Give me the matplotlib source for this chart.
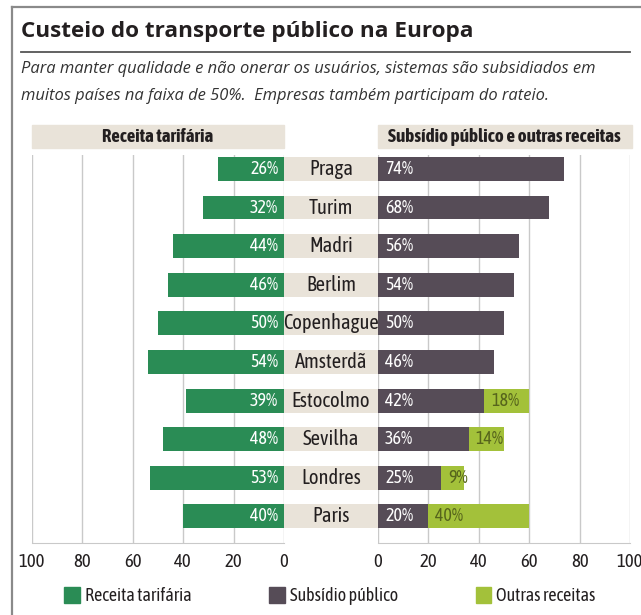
import numpy as np
import matplotlib
matplotlib.use("Agg")
import matplotlib.pyplot as plt
from matplotlib.patches import Rectangle, Patch
from matplotlib.lines import Line2D

# --------------------------
# Data
# --------------------------
cities = ["Praga", "Turim", "Madri", "Berlim", "Copenhague",
          "Amsterdã", "Estocolmo", "Sevilha", "Londres", "Paris"]
receita = [26, 32, 44, 46, 50, 54, 39, 48, 53, 40]
subsidio = [74, 68, 56, 54, 50, 46, 42, 36, 25, 20]
outras = [0, 0, 0, 0, 0, 0, 18, 14, 9, 40]
ticks = [0, 20, 40, 60, 80, 100]

# --------------------------
# Style
# --------------------------
COND = ["Asap Condensed", "Barlow Semi Condensed", "DejaVu Sans"]
HEAD = ["Open Sans", "DejaVu Sans"]

GREEN = "#2a8c55"
DARK = "#564c57"
LIGHT = "#a3c13a"
BEIGE = "#e9e3d9"
GRID = "#c9c9c9"
TXT = "#231f20"

W, H = 641, 615
fig = plt.figure(figsize=(W / 100, H / 100), dpi=100)
fig.patch.set_facecolor("white")


def fx(px):
    return px / W


def fy(py):
    return 1 - py / H


# frame and title
fig.add_artist(Line2D([fx(12), fx(12)], [0, fy(7)], color="#8a8a8a", lw=1.6))
fig.add_artist(Line2D([fx(12), 1], [fy(7), fy(7)], color="#8a8a8a", lw=1.6))
fig.text(fx(21), fy(37), "Custeio do transporte público na Europa", fontsize=16.2,
         fontweight="bold", family=HEAD, color=TXT, va="baseline")
fig.add_artist(Line2D([fx(21), fx(630)], [fy(52), fy(52)], color="#555555", lw=1.3))
fig.text(fx(21), fy(73), "Para manter qualidade e não onerar os usuários, sistemas são subsidiados em",
         fontsize=11.9, style="italic", family=HEAD, color="#333333", va="baseline")
fig.text(fx(21), fy(100), "muitos países na faixa de 50%.  Empresas também participam do rateio.",
         fontsize=11.9, style="italic", family=HEAD, color="#333333", va="baseline")

# header bands
fig.add_artist(Rectangle((fx(32), fy(148)), fx(252), (148 - 125) / H, color=BEIGE))
fig.add_artist(Rectangle((fx(378), fy(148)), fx(254), (148 - 125) / H, color=BEIGE))
fig.text(fx(158), fy(137), "Receita tarifária", fontsize=13.5, fontweight="bold",
         family=COND, color=TXT, ha="center", va="center")
fig.text(fx(504), fy(137), "Subsídio público e outras receitas", fontsize=13.8,
         fontweight="bold", family=COND, color=TXT, ha="center", va="center")

# --------------------------
# Axes
# --------------------------
bottom = fy(543)
height = (543 - 155) / H
axL = fig.add_axes([fx(32), bottom, fx(252), height])
axM = fig.add_axes([fx(284), bottom, fx(94), height])
axR = fig.add_axes([fx(378), bottom, fx(252), height])

y = np.arange(len(cities))
bh = 0.62
ylim = (9.69, -0.36)

for ax in (axL, axR):
    ax.set_xlim(0, 100)
    ax.set_ylim(*ylim)
    ax.set_xticks(ticks)
    ax.set_yticks([])
    for t in ticks:
        ax.axvline(t, color=GRID, lw=1, zorder=0)
    for s in ("left", "right", "top"):
        ax.spines[s].set_visible(False)
    ax.spines["bottom"].set_color(GRID)
    ax.tick_params(axis="x", length=0, pad=7, labelsize=13.5, labelcolor=TXT)
    for lab in ax.get_xticklabels():
        lab.set_family(COND)
    ax.set_facecolor("none")
axL.invert_xaxis()

axL.barh(y, receita, height=bh, color=GREEN, zorder=2)
axR.barh(y, subsidio, height=bh, color=DARK, zorder=2)
axR.barh(y, outras, left=subsidio, height=bh, color=LIGHT, zorder=2)

for i in range(len(cities)):
    axL.text(2.3, y[i], f"{receita[i]}%", color="white", ha="right", va="center",
             fontsize=13, family=COND, zorder=3)
    axR.text(2.8, y[i], f"{subsidio[i]}%", color="white", ha="left", va="center",
             fontsize=13, family=COND, zorder=3)
    if outras[i] > 0:
        axR.text(subsidio[i] + 2.8, y[i], f"{outras[i]}%", color="#56641c", ha="left",
                 va="center", fontsize=13, family=COND, zorder=3)

# middle city labels
axM.set_xlim(0, 1)
axM.set_ylim(*ylim)
axM.axis("off")
axM.barh(y, [1] * len(cities), height=bh, color=BEIGE)
for i, c in enumerate(cities):
    axM.text(0.5, y[i], c, ha="center", va="center", fontsize=14.8, family=COND, color=TXT)

# legend
handles = [Patch(color=GREEN, label="Receita tarifária"),
           Patch(color=DARK, label="Subsídio público"),
           Patch(color=LIGHT, label="Outras receitas")]
fig.legend(handles=handles, loc="center", bbox_to_anchor=(fx(330), fy(596)), ncol=3,
           frameon=False, prop={"family": COND, "size": 13}, handlelength=0.85,
           handleheight=0.95, handletextpad=0.3, columnspacing=4.3, labelcolor=TXT)

fig.savefig("out.png", dpi=100)
